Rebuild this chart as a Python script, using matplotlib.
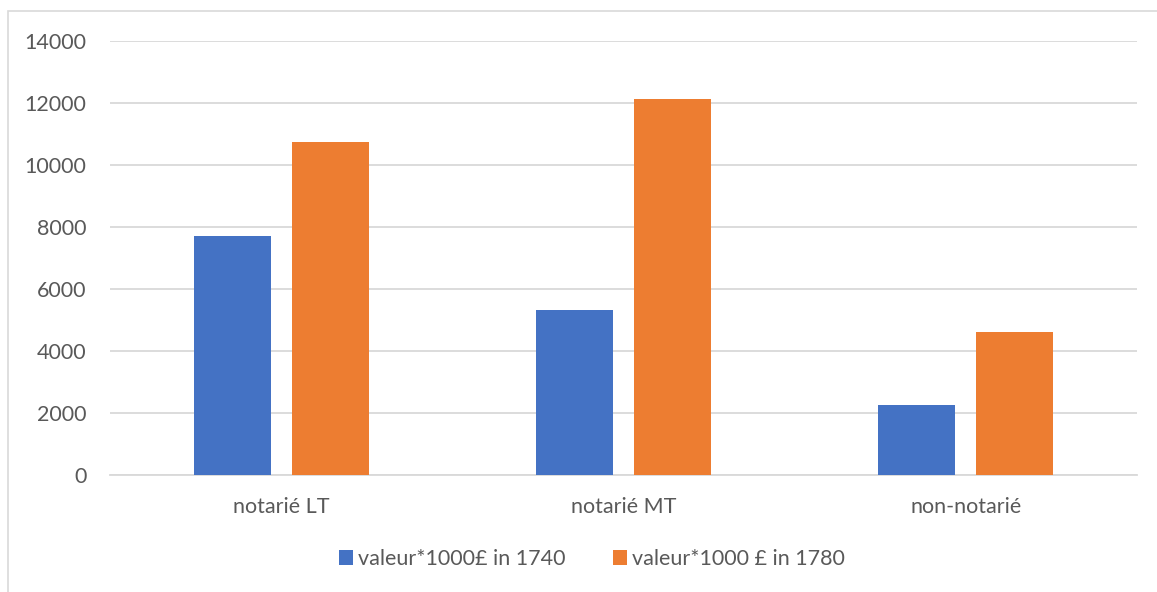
import matplotlib
matplotlib.use("Agg")
import matplotlib.pyplot as plt
import numpy as np
from matplotlib.patches import Rectangle

categories = ["notarié LT", "notarié MT", "non-notarié"]
series_names = ["valeur*1000£ in 1740", "valeur*1000 £ in 1780"]
values_1740 = [7700, 5310, 2260]
values_1780 = [10730, 12120, 4600]
yticks = [0, 2000, 4000, 6000, 8000, 10000, 12000, 14000]

plt.rcParams['font.family'] = ['Lato', 'DejaVu Sans']

W, H = 1157, 592
fig = plt.figure(figsize=(W / 100, H / 100), dpi=100)
fig.patch.set_facecolor("white")

# chart border (partially cropped in the reference)
fig.patches.append(Rectangle((8 / W, -0.1), 1.5, (592 - 11) / H + 0.1,
                             transform=fig.transFigure, fill=False,
                             edgecolor="#d9d9d9", linewidth=1.2))

ax = fig.add_axes([110 / W, (592 - 475) / H, (1137 - 110) / W, (475 - 41) / H])
x = np.arange(len(categories))
bw = 0.225
off = 0.1435
ax.bar(x - off, values_1740, bw, color="#4472C4", label=series_names[0], zorder=3)
ax.bar(x + off, values_1780, bw, color="#ED7D31", label=series_names[1], zorder=3)

ax.set_xlim(-0.5, 2.5)
ax.set_ylim(0, 14000)
ax.set_yticks(yticks)
ax.set_yticklabels([str(v) for v in yticks])
ax.set_xticks(x)
ax.set_xticklabels(categories)
ax.grid(axis="y", color="#d9d9d9", linewidth=1.3, zorder=0)
for s in ["top", "right", "left"]:
    ax.spines[s].set_visible(False)
ax.spines["bottom"].set_color("#d9d9d9")
ax.spines["bottom"].set_linewidth(1.3)
ax.tick_params(axis="both", length=0, labelsize=15.5, colors="#595959")
ax.tick_params(axis="y", pad=17)
ax.tick_params(axis="x", pad=16)

leg = fig.legend(loc="center", bbox_to_anchor=(592 / W, 1 - 559 / H), ncol=2,
                 frameon=False, fontsize=15.5, handlelength=0.65, handleheight=0.65,
                 columnspacing=2.2, handletextpad=0.25)
for t in leg.get_texts():
    t.set_color("#595959")

fig.savefig("out.png", dpi=100, facecolor="white")
